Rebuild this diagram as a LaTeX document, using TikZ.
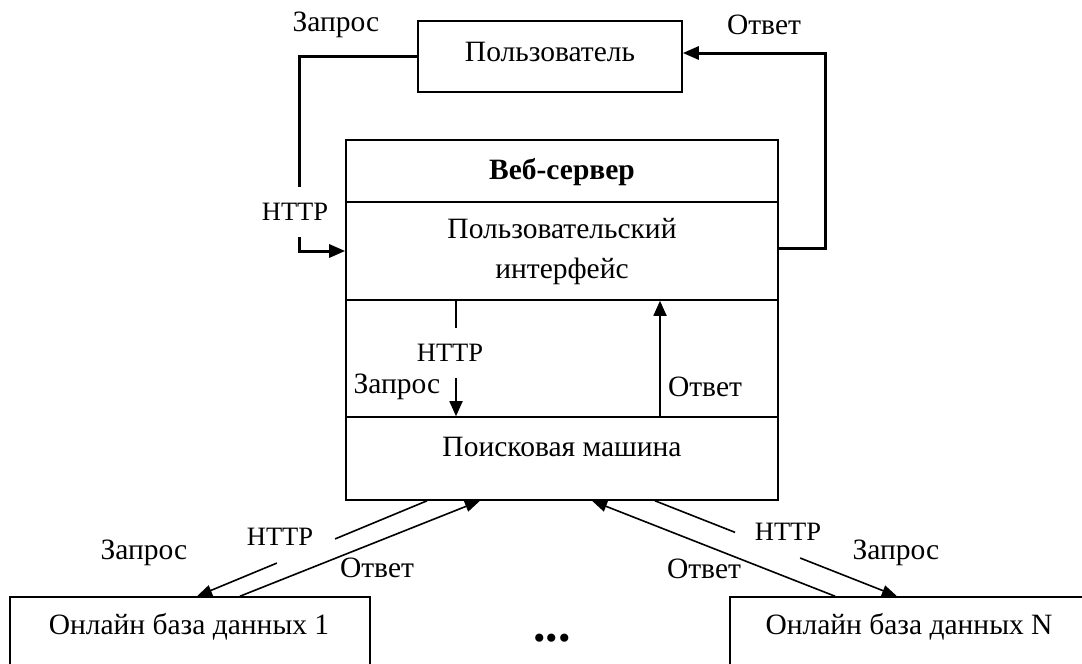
\documentclass[tikz,border=0pt]{standalone}
\usepackage{fontspec}
\setmainfont{Liberation Serif}
\usetikzlibrary{arrows.meta}
\begin{document}
\begin{tikzpicture}[x=1pt,y=-1pt,
  box/.style={draw, line width=1.6pt, rectangle, inner sep=0pt},
  txt/.style={inner sep=0pt, font=\fontsize{29.5}{34}\selectfont},
  lat/.style={inner sep=0pt, font=\fontsize{26.5}{30}\selectfont},
  conn/.style={line width=3pt, -{Triangle[length=16pt,width=13pt]}},
  inarr/.style={line width=1.8pt, -{Triangle[length=15pt,width=13pt]}},
  dbarr/.style={line width=1.6pt, -{Triangle[length=15pt,width=11pt]}},
  gap/.style={fill=white, inner xsep=2pt, minimum height=50pt}
]
\useasboundingbox (0,0) rectangle (1082,664);
\clip (0,0) rectangle (1082,664);
\fill[white] (0,0) rectangle (1082,664);

% boxes
\node[box, minimum width=264pt, minimum height=71pt] (user) at (550,56.5) {};
\node[box, minimum width=432pt, minimum height=62pt] (title) at (562,171) {};
\node[box, minimum width=432pt, minimum height=98pt] (ui) at (562,251) {};
\node[box, minimum width=432pt, minimum height=117pt] (mid) at (562,358.5) {};
\node[box, minimum width=432pt, minimum height=83pt] (se) at (562,458.5) {};
\node[box, minimum width=360pt, minimum height=90pt] (db1) at (190,642) {};
\node[box, minimum width=360pt, minimum height=90pt] (dbn) at (910,642) {};

% box texts
\node[txt] (usert) at (550,52) {Пользователь};
\node[txt] (titlet) at (562,172) {\bfseries Веб-сервер};
\node[txt, align=center, font=\fontsize{29.5}{40}\selectfont] (uit) at (562,252) {Пользовательский\\интерфейс};
\node[txt] (set) at (562,447) {Поисковая машина};
\node[txt] (db1t) at (189,627) {Онлайн база данных 1};
\node[txt] (dbnt) at (909,627) {Онлайн база данных N};
\node[txt, font=\fontsize{50}{56}\selectfont\bfseries] (dots) at (552,638) {...};

% top connectors
\coordinate (lc) at (299,0);
\coordinate (rc) at (825,0);
\coordinate (uiR) at ([yshift=3pt]ui.east);
\coordinate (usR) at ([yshift=3.5pt]user.east);
\draw[conn] (user.west) -- (user.west -| lc) -- node[pos=0.8, lat, gap, xshift=-4pt] (http1) {HTTP} (lc |- ui.west) -- (ui.west);
\draw[conn] (uiR) -- (uiR -| rc) -- (usR -| rc) -- (usR);
\node[txt] (zq1) at (336,25) {Запрос};
\node[txt] (ot1) at (764,25) {Ответ};

% inner connectors
\coordinate (ia) at (456,0);
\coordinate (ib) at (660,0);
\draw[inarr] (ui.south -| ia) -- node[pos=0.45, lat, gap, xshift=-6pt] (http2) {HTTP} (se.north -| ia);
\draw[inarr] (se.north -| ib) -- (ui.south -| ib);
\node[txt] (zq2) at (397,387) {Запрос};
\node[txt] (ot2) at (705,387) {Ответ};

% bottom connectors
\draw[dbarr, dash pattern=on 99.5pt off 63pt on 400pt] ([xshift=-135pt]se.south) -- ([xshift=7pt]db1.north);
\draw[dbarr] ([xshift=50pt]db1.north) -- ([xshift=-82pt]se.south);
\draw[dbarr] ([xshift=-75pt]dbn.north) -- ([xshift=30pt]se.south);
\draw[dbarr, dash pattern=on 86pt off 70pt on 400pt] ([xshift=93pt]se.south) -- ([xshift=-13pt]dbn.north);
\node[lat] (http3) at (280,537) {HTTP};
\node[txt] (zq3) at (144,553) {Запрос};
\node[txt] (ot3) at (377,568) {Ответ};
\node[lat] (http4) at (788,532) {HTTP};
\node[txt] (zq4) at (896,553) {Запрос};
\node[txt] (ot4) at (704,569) {Ответ};
\end{tikzpicture}
\end{document}
